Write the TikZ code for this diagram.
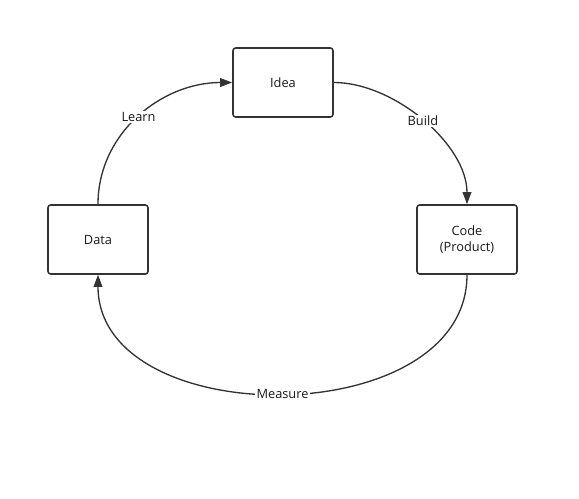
\documentclass[tikz,border=0pt]{standalone}
\usepackage{fontspec}
\setmainfont{Open Sans}
\usetikzlibrary{arrows.meta}
\tikzset{
  stagebox/.style={draw=black!80, line width=1.2pt, rounded corners=2pt,
    minimum width=75pt, minimum height=51.75pt, align=center,
    inner sep=0pt, font=\fontsize{9.6}{11.5}\selectfont, text=black!90},
  loopline/.style={draw=black!80, line width=1pt},
  looptip/.style={-{Triangle[length=9pt,width=6.5pt]}},
  looplabel/.style={fill=white, inner sep=1pt, font=\fontsize{9.6}{11.5}\selectfont, text=black!90}
}
\begin{document}
\begin{tikzpicture}[x=0.75pt, y=-0.75pt]
      % Fix the page size
      \useasboundingbox (0,0) rectangle (579,499);
      % Place the nodes
      \node[stagebox] (idea) at (283,82.5) {Idea};
      \node[stagebox] (data) at (98,239.5) {Data};
      \node[stagebox] (code) at (467,239.5) {Code\\(Product)};
      % Learn: data -> idea
      \draw[loopline, looptip] (data.north) to[out=90, in=180]
        node[looplabel] (learn) {Learn} (idea.west);
      % Build: idea -> code
      \draw[loopline, looptip] (idea.east) to[out=0, in=90, looseness=0.85]
        node[looplabel] (build) {Build} (code.north);
      % Measure: code -> data
      \draw[loopline, looptip] (code.south) to[out=-90, in=-90, looseness=1.1]
        node[looplabel] (measure) {Measure} (data.south);
    \end{tikzpicture}
\end{document}
